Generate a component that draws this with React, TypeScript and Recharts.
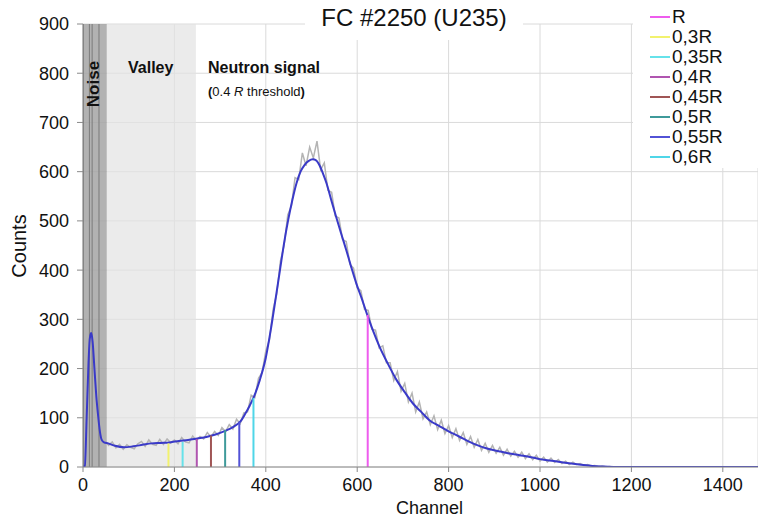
import {
  ComposedChart,
  Line,
  XAxis,
  YAxis,
  CartesianGrid,
  ReferenceArea,
  ReferenceLine,
  Legend,
} from "recharts";

const FONT = '"Liberation Sans", Arial, Helvetica, sans-serif';

const xTicks = [0, 200, 400, 600, 800, 1000, 1200, 1400];
const yTicks = [0, 100, 200, 300, 400, 500, 600, 700, 800, 900];

// region limits (channels)
const noiseRange = [0, 52];
const valleyRange = [52, 247];
const noiseSpikes = [1, 14, 20, 35];

// smoothed fit (blue)
const fitChannels = [
  0, 4, 8, 12, 15, 18, 21, 25, 29, 33, 37, 41, 46, 55, 70, 90, 110, 130, 150,
  170, 190, 210, 230, 250, 270, 290, 310, 330, 345, 355, 365, 375, 387, 400,
  412, 422, 431, 440, 449, 458, 467, 476, 485, 494, 503, 510, 518, 526, 533,
  543, 554, 565, 576, 587, 598, 610, 622, 635, 649, 667, 686, 704, 722, 740,
  758, 780, 801, 823, 846, 864, 882, 910, 930, 955, 980, 1000, 1030, 1064,
  1090, 1115, 1140, 1170, 1300, 1477,
];
const fitCounts = [
  0, 2, 100, 210, 262, 272, 255, 200, 145, 105, 72, 55, 50, 48, 43, 40, 42, 45,
  48, 49, 50, 53, 55, 58, 61, 66, 73, 82, 93, 108, 125, 145, 177, 222, 285,
  345, 400, 455, 502, 542, 576, 600, 614, 622, 625, 623, 612, 594, 576, 543,
  508, 474, 441, 406, 373, 342, 309, 276, 244, 210, 177, 152, 129, 112, 95, 83,
  72, 62, 51, 44, 38, 32, 28, 24, 20, 16, 12, 7.5, 4.5, 2, 1, 0, 0, 0,
];

// raw spectrum (grey), one value every 8 channels from channel 40
const rawStart = 40;
const rawStep = 8;
const rawCounts = [
  60, 54, 44, 51, 39, 46, 36, 45, 40, 37, // 40
  47, 52, 42, 55, 46, 44, 56, 46, 57, 49, // 120
  55, 47, 60, 51, 49, 63, 54, 62, 57, 70, // 200
  61, 72, 64, 80, 72, 86, 77, 97, 88, 110, // 280
  112, 146, 141, 180, 192, 236, 258, 320, 352, 418, // 360
  450, 512, 530, 588, 584, 638, 612, 650, 628, 662, // 440
  604, 618, 562, 558, 510, 506, 462, 458, 412, 404, // 520
  364, 358, 320, 318, 280, 278, 242, 246, 212, 212, // 600
  176, 194, 154, 170, 132, 150, 112, 132, 98, 112, // 680
  86, 104, 76, 95, 68, 84, 60, 78, 54, 70, // 760
  46, 62, 40, 56, 34, 48, 30, 44, 28, 40, // 840
  24, 36, 22, 32, 20, 30, 17, 27, 15, 24, // 920
  12, 20, 10, 18, 9, 15, 7, 12, 5, 10, // 1000
  5, 7, 3, 5, 2, 3, 1, 2, 0, 1, // 1080
  0, // 1160
];

// threshold lines
const thresholdNames = ["R", "0,3R", "0,35R", "0,4R", "0,45R", "0,5R", "0,55R", "0,6R"];
const thresholdChannels = [623, 187, 218, 249, 280, 311, 342, 373];
const thresholdTops = [309, 48, 51, 57, 64, 75, 92, 140];
const thresholdColors = [
  "#ee5cee",
  "#f2f26e",
  "#66e2ea",
  "#b055b0",
  "#a05555",
  "#3f9a9a",
  "#5252d6",
  "#4fd6e8",
];

const fitData = fitChannels.map((ch, i) => ({ ch, c: fitCounts[i] }));
const rawData = rawCounts.map((c, i) => ({ ch: rawStart + i * rawStep, c }));

const renderLegend = (props: any) => {
  const items = (props.payload || [])
    .filter((p: any) => thresholdNames.includes(p.value))
    .sort((a: any, b: any) => thresholdNames.indexOf(a.value) - thresholdNames.indexOf(b.value));
  return (
    <div
      style={{
        background: "#fff",
        width: 125,
        height: 168,
        paddingTop: 7,
        boxSizing: "border-box",
        fontFamily: FONT,
      }}
    >
      {items.map((p: any) => (
        <div key={p.value} style={{ display: "flex", alignItems: "center", height: 20 }}>
          <span
            style={{
              display: "inline-block",
              width: 20,
              height: 2,
              background: p.color,
              marginLeft: 17,
              marginRight: 2,
            }}
          />
          <span style={{ fontSize: 19, lineHeight: "20px", color: "#111" }}>{p.value}</span>
        </div>
      ))}
    </div>
  );
};

export default function App() {
  return (
    <div style={{ position: "absolute", left: 0, top: 0, width: 758, height: 518, background: "#fff" }}>
      <ComposedChart
        width={758}
        height={518}
        margin={{ top: 24, right: 0, bottom: 0, left: 0 }}
        style={{ fontFamily: FONT }}
      >
        <CartesianGrid stroke="#dadada" strokeWidth={1} />
        <ReferenceArea
          x1={valleyRange[0]}
          x2={valleyRange[1]}
          y1={0}
          y2={900}
          fill="#e2e2e2"
          fillOpacity={0.7}
          stroke="none"
        />
        <ReferenceArea
          x1={noiseRange[0]}
          x2={noiseRange[1]}
          y1={0}
          y2={900}
          fill="#a4a4a4"
          fillOpacity={0.85}
          stroke="none"
        />
        {noiseSpikes.map((x) => (
          <ReferenceLine key={x} x={x} stroke="#7c7c7c" strokeWidth={1} />
        ))}
        <XAxis
          type="number"
          dataKey="ch"
          domain={[0, 1477]}
          allowDataOverflow
          ticks={xTicks}
          height={51}
          tickSize={5}
          tickMargin={6}
          stroke="#8a8a8a"
          tick={{ fill: "#111", fontSize: 18 }}
          label={{ value: "Channel", position: "insideBottom", offset: 4, dx: 9, fill: "#111", fontSize: 18 }}
        />
        <YAxis
          type="number"
          domain={[0, 900]}
          allowDataOverflow
          ticks={yTicks}
          width={83}
          tickSize={6}
          tickMargin={8}
          stroke="#8a8a8a"
          tick={{ fill: "#111", fontSize: 18 }}
        />
        <Line
          data={rawData}
          dataKey="c"
          name="raw"
          stroke="#b4b4b4"
          strokeWidth={1.5}
          dot={false}
          legendType="none"
          isAnimationActive={false}
        />
        <Line
          data={fitData}
          dataKey="c"
          name="fit"
          type="monotone"
          stroke="#3a3ac8"
          strokeWidth={2}
          dot={false}
          legendType="none"
          isAnimationActive={false}
        />
        {thresholdNames.map((name, i) => (
          <Line
            key={name}
            name={name}
            data={[
              { ch: thresholdChannels[i], c: 0 },
              { ch: thresholdChannels[i], c: thresholdTops[i] },
            ]}
            dataKey="c"
            stroke={thresholdColors[i]}
            strokeWidth={2}
            dot={false}
            legendType="line"
            isAnimationActive={false}
          />
        ))}
        <Legend
          layout="vertical"
          align="center"
          verticalAlign="middle"
          content={renderLegend}
          wrapperStyle={{ position: "absolute", left: 633, top: 0, width: 125, height: 168 }}
        />
      </ComposedChart>

      <div
        style={{
          position: "absolute",
          left: 305,
          top: 0,
          width: 218,
          height: 40,
          background: "#fff",
          textAlign: "center",
          fontFamily: FONT,
          fontSize: 24,
          lineHeight: "28px",
          paddingTop: 4,
          boxSizing: "border-box",
          color: "#111",
        }}
      >
        FC #2250 (U235)
      </div>

      <svg
        width={758}
        height={518}
        style={{ position: "absolute", left: 0, top: 0, pointerEvents: "none", fontFamily: FONT }}
      >
        <text x={19} y={246} transform="rotate(-90 19 246)" textAnchor="middle" dominantBaseline="central" fontSize={20} fill="#111">
          Counts
        </text>
        <text x={93} y={84} transform="rotate(-90 93 84)" textAnchor="middle" dominantBaseline="central" fontSize={17} fontWeight="bold" fill="#111">
          Noise
        </text>
        <text x={128} y={73} fontSize={16} fontWeight="bold" fill="#111">
          Valley
        </text>
        <text x={208} y={73} fontSize={16} fontWeight="bold" fill="#111">
          Neutron signal
        </text>
        <text x={208} y={96} fontSize={13} fill="#111">
          <tspan fontWeight="bold">(</tspan>
          <tspan>0.4 </tspan>
          <tspan fontStyle="italic">R</tspan>
          <tspan> threshold</tspan>
          <tspan fontWeight="bold">)</tspan>
        </text>
      </svg>
    </div>
  );
}
